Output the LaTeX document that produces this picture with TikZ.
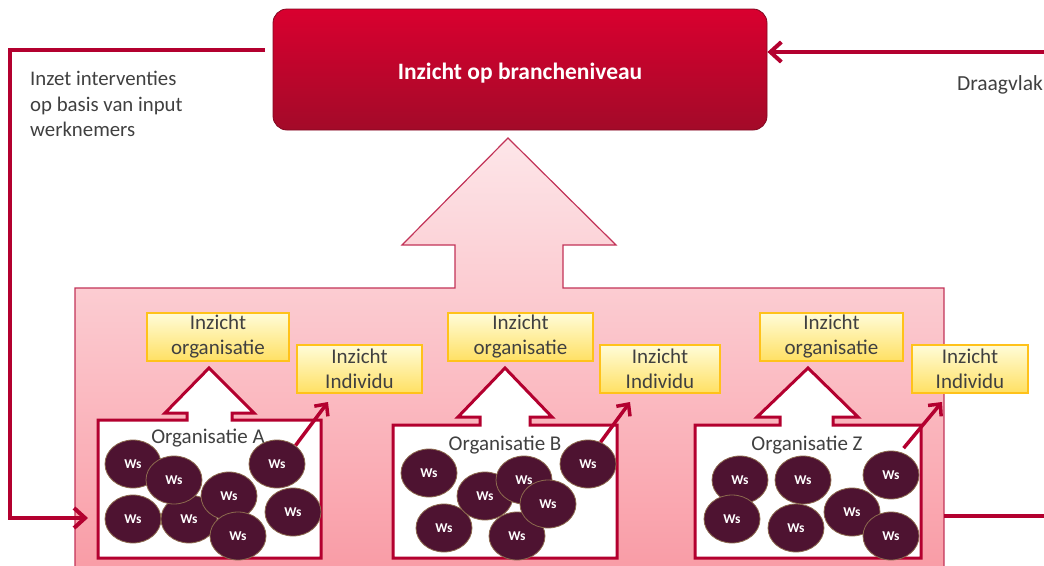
\documentclass[tikz,border=0pt]{standalone}
\usepackage{fontspec}
\setmainfont{Carlito}
\usetikzlibrary{arrows.meta,shapes.geometric}
\definecolor{linkclr}{HTML}{B3002F}
\definecolor{topclr}{HTML}{D9002F}
\definecolor{topdark}{HTML}{A30A29}
\definecolor{wsclr}{HTML}{4E1331}
\definecolor{wsedge}{HTML}{8C6A4E}
\definecolor{inkclr}{HTML}{404040}
\definecolor{yelltop}{HTML}{FFFCD8}
\definecolor{yellbot}{HTML}{FFE063}
\definecolor{yelledge}{HTML}{FFC21A}
\definecolor{pinktop}{HTML}{FDE6E9}
\definecolor{pinkbot}{HTML}{F99BA5}

\begin{document}
\begin{tikzpicture}[x=1pt, y=-1pt,
  insight/.style={draw=yelledge, line width=1.2pt, top color=yelltop, bottom color=yellbot,
    minimum height=48pt, inner sep=0pt, align=center, text=inkclr,
    font=\fontsize{21}{25}\selectfont},
  ws/.style={ellipse, draw=wsedge, line width=0.8pt, fill=wsclr, minimum width=56pt,
    minimum height=48pt, inner sep=0pt, text=white,
    font=\fontsize{13.5}{13.5}\selectfont\bfseries},
  orgbox/.style={draw=linkclr, line width=3pt, fill=white},
  orglabel/.style={anchor=base, inner sep=0pt, text=inkclr, font=\fontsize{21}{25}\selectfont},
  feedback/.style={draw=linkclr, line width=4pt},
  barb/.style={-{Straight Barb[length=11pt, width=20pt]}},
  indarrow/.style={draw=linkclr, line width=3.5pt, -{Straight Barb[length=9pt, width=17pt]}},
]
\useasboundingbox (0,0) rectangle (1044,565);

% --- the pink field with the big arrow up to branche level ---------------
\draw[linkclr!80, line width=1.2pt, top color=pinktop, bottom color=pinkbot]
  (75,288) -- (455,288) -- (455,245) -- (402,245) -- (508,138) -- (616,245)
  -- (563,245) -- (563,288) -- (944,288) -- (944,575) -- (75,575) -- cycle;

% --- insight boxes --------------------------------------------------------
\node[insight, minimum width=142pt] (orgA) at (218,337) {Inzicht\\organisatie};
\node[insight, minimum width=125pt] (indA) at (359.5,369) {Inzicht\\Individu};
\node[insight, minimum width=145pt] (orgB) at (520.5,337) {Inzicht\\organisatie};
\node[insight, minimum width=120pt] (indB) at (660,369) {Inzicht\\Individu};
\node[insight, minimum width=143pt] (orgZ) at (831.5,337) {Inzicht\\organisatie};
\node[insight, minimum width=116pt] (indZ) at (970,369) {Inzicht\\Individu};

% --- organisation boxes, each with its own arrow up -----------------------
\draw[orgbox] (98,420) -- (187,420) -- (187,413) -- (165,413) -- (209,368)
  -- (254,413) -- (232,413) -- (232,420) -- (321,420) -- (321,558) -- (98,558) -- cycle;
\draw[orgbox] (393,425) -- (480,425) -- (480,417) -- (458,417) -- (505,368)
  -- (552,417) -- (530,417) -- (530,425) -- (617,425) -- (617,558) -- (393,558) -- cycle;
\draw[orgbox] (695,425) -- (780,425) -- (780,417) -- (757,417) -- (808,368)
  -- (858,417) -- (833,417) -- (833,425) -- (921,425) -- (921,558) -- (695,558) -- cycle;

\node[orglabel] (labA) at (208,443) {Organisatie A};
\node[orglabel] (labB) at (505,450) {Organisatie B};
\node[orglabel] (labZ) at (807,450) {Organisatie Z};

% --- employees ------------------------------------------------------------
\foreach \n/\x/\y in {1/133/464, 5/133/519, 6/189/519, 2/174/480,
                      3/229/496, 8/238/536, 4/277/464, 7/293/512}
  \node[ws] (wsA\n) at (\x,\y) {Ws};
\foreach \n/\x/\y in {1/429/473, 2/588/464, 6/444/528, 3/485/496,
                      4/524/480, 7/517/536, 5/548/504}
  \node[ws] (wsB\n) at (\x,\y) {Ws};
\foreach \n/\x/\y in {1/740/480, 4/732/519, 2/803/480, 5/796/528,
                      3/891/475, 6/852/512, 7/891/536}
  \node[ws] (wsZ\n) at (\x,\y) {Ws};

% --- one employee to individual insight -----------------------------------
\coordinate (tipA) at (328,402);
\coordinate (tipB) at (630,402);
\coordinate (tipZ) at (942,402);
\draw[indarrow] (wsA4.45) -- (tipA);
\draw[indarrow] (wsB2.60) -- (tipB);
\draw[indarrow] ([yshift=5pt]wsZ3.60) -- (tipZ);

% --- branche level --------------------------------------------------------
\node[rounded corners=14pt, draw=topdark!80!black, line width=0.8pt,
      top color=topclr, bottom color=topdark, minimum width=494pt,
      minimum height=121pt, text=white, text height=20pt, text depth=0pt,
      font=\fontsize{23.5}{28}\selectfont\bfseries] (branche) at (520,69.5)
  {Inzicht op brancheniveau};

% --- feedback loops -------------------------------------------------------
\coordinate (fbout) at (265,50);
\coordinate (fbcorner) at (10,518);
\coordinate (fbin) at (88,518);
\draw[feedback, barb] (fbout) -| (fbcorner) -- (fbin);
\coordinate (draagin) at (1050,52);
\draw[feedback, barb] (draagin) -- (draagin -| branche.east);
\coordinate (fieldout) at (944,516);
\coordinate (fieldend) at (1050,516);
\draw[feedback] (fieldout) -- (fieldend);

% --- labels ---------------------------------------------------------------
\node[anchor=north west, align=left, inner sep=0pt, text=inkclr,
      font=\fontsize{20.8}{25.5}\selectfont] (inzet) at (30,71)
  {Inzet interventies\\op basis van input\\werknemers};
\node[anchor=base east, inner sep=0pt, text=inkclr,
      font=\fontsize{21.5}{25}\selectfont] (draagvlak) at (1043,90) {Draagvlak};

\end{tikzpicture}
\end{document}
